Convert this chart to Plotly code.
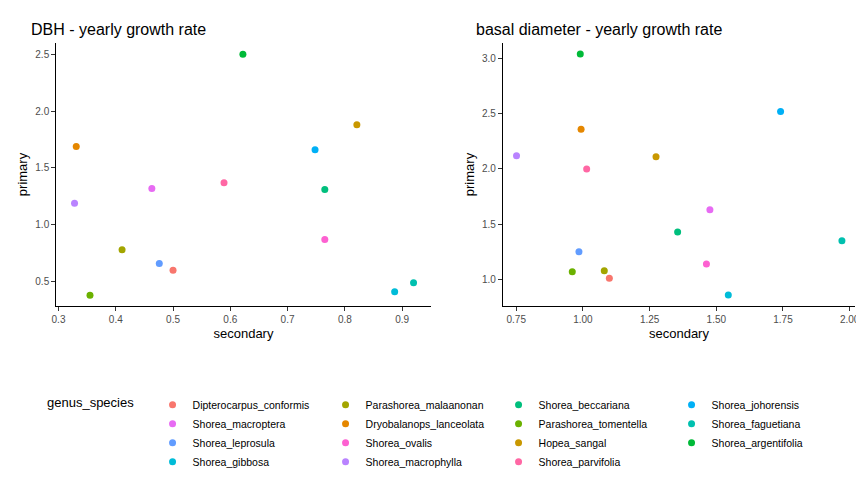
"""Yearly growth rate: primary vs secondary forest, by species."""

import plotly.graph_objects as go

SPECIES = [
    "Dipterocarpus_conformis", "Dryobalanops_lanceolata", "Hopea_sangal",
    "Parashorea_malaanonan", "Parashorea_tomentella", "Shorea_argentifolia",
    "Shorea_beccariana", "Shorea_faguetiana", "Shorea_gibbosa",
    "Shorea_johorensis", "Shorea_leprosula", "Shorea_macrophylla",
    "Shorea_macroptera", "Shorea_ovalis", "Shorea_parvifolia",
]
COLORS = [
    "#F8766D", "#E58700", "#C99800", "#A3A500", "#6BB100", "#00BA38",
    "#00BF7D", "#00C0AF", "#00BCD8", "#00B0F6", "#619CFF", "#B983FF",
    "#E76BF3", "#FD61D1", "#FF67A4",
]
DBH_SECONDARY = [0.50, 0.331, 0.821, 0.411, 0.355, 0.622, 0.765, 0.92,
                 0.887, 0.748, 0.476, 0.328, 0.463, 0.765, 0.589]
DBH_PRIMARY = [0.60, 1.69, 1.88, 0.78, 0.38, 2.50, 1.31, 0.49,
               0.41, 1.66, 0.66, 1.19, 1.32, 0.87, 1.37]
BASAL_SECONDARY = [1.099, 0.993, 1.274, 1.08, 0.96, 0.99, 1.355, 1.971,
                   1.545, 1.741, 0.985, 0.751, 1.476, 1.463, 1.014]
BASAL_PRIMARY = [1.01, 2.36, 2.11, 1.08, 1.07, 3.04, 1.43, 1.35,
                 0.86, 2.52, 1.25, 2.12, 1.63, 1.14, 2.00]


def main():
    fig = go.Figure()
    n_rows = 3
    n_cols = 5
    for i, sp in enumerate(SPECIES):
        # legend is filled column-wise in the original, plotly fills rows
        col, row = divmod(i, n_rows)
        rank = row * n_cols + col
        marker = dict(color=COLORS[i], size=7)
        fig.add_trace(go.Scatter(
            x=[DBH_SECONDARY[i]], y=[DBH_PRIMARY[i]], mode="markers",
            marker=marker, name=sp, legendgroup=sp, legendrank=rank,
            xaxis="x", yaxis="y"))
        fig.add_trace(go.Scatter(
            x=[BASAL_SECONDARY[i]], y=[BASAL_PRIMARY[i]], mode="markers",
            marker=marker, name=sp, legendgroup=sp, showlegend=False,
            xaxis="x2", yaxis="y2"))

    axis = dict(showline=True, linecolor="black", linewidth=1,
                ticks="outside", ticklen=4, tickcolor="#333",
                tickfont=dict(size=10, color="#4D4D4D"),
                showgrid=False, zeroline=False)
    fig.update_layout(
        width=864, height=480,
        paper_bgcolor="white", plot_bgcolor="white",
        font=dict(family="Liberation Sans, Arial", color="black"),
        margin=dict(l=45, r=14, t=35, b=155),
        xaxis=dict(axis, domain=[0.004, 0.471], range=[0.296, 0.95],
                   dtick=0.1, tickformat=".1f",
                   title=dict(text="secondary", font=dict(size=13), standoff=4)),
        yaxis=dict(axis, range=[0.285, 2.6], dtick=0.5, tickformat=".1f",
                   title=dict(text="primary", font=dict(size=13), standoff=4)),
        xaxis2=dict(axis, domain=[0.561, 1.0], range=[0.70, 2.02],
                    dtick=0.25, tickformat=".2f", anchor="y2",
                    title=dict(text="secondary", font=dict(size=13), standoff=4)),
        yaxis2=dict(axis, range=[0.76, 3.14], dtick=0.5, tickformat=".1f",
                    anchor="x2",
                    title=dict(text="primary", font=dict(size=13), standoff=4)),
        legend=dict(orientation="h", x=-0.01, y=-0.32, yanchor="top",
                    xanchor="left", entrywidth=128, tracegroupgap=0,
                    font=dict(size=10.5),
                    title=dict(text="genus_species   ", side="left",
                               font=dict(size=13))),
        annotations=[
            dict(text="DBH - yearly growth rate", xref="paper", yref="paper",
                 x=-0.03, y=1.01, xanchor="left", yanchor="bottom",
                 showarrow=False, font=dict(size=16)),
            dict(text="basal diameter - yearly growth rate", xref="paper",
                 yref="paper", x=0.525, y=1.01, xanchor="left",
                 yanchor="bottom", showarrow=False, font=dict(size=16)),
        ],
    )
    fig.write_html("out.html")


if __name__ == "__main__":
    main()
